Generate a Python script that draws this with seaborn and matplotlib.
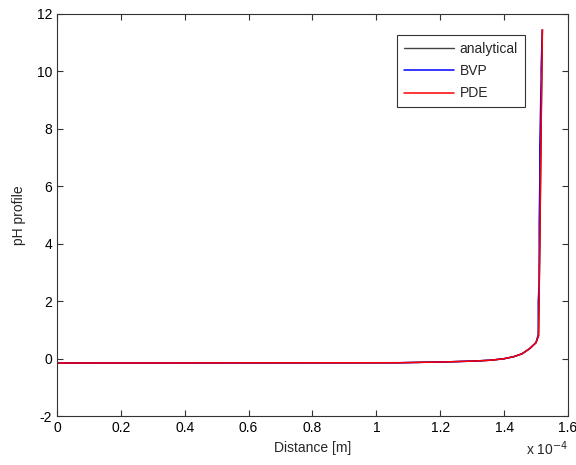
import numpy as np
import pandas as pd
import seaborn as sns
import matplotlib
matplotlib.use("Agg")
import matplotlib.pyplot as plt

# distance in units of 1e-4 m, pH values
analytical_x = [0, 1.07, 1.22, 1.31, 1.36, 1.40, 1.43, 1.456, 1.48, 1.50, 1.508, 1.512, 1.516, 1.520]
analytical_ph = [-0.15, -0.14, -0.11, -0.08, -0.05, 0.0, 0.07, 0.17, 0.35, 0.56, 0.80, 4.0, 8.0, 11.45]

bvp_x = [0, 1.07, 1.22, 1.31, 1.36, 1.40, 1.43, 1.456, 1.48, 1.50, 1.507, 1.507, 1.510, 1.510, 1.512, 1.512, 1.516, 1.516, 1.520]
bvp_ph = [-0.15, -0.14, -0.11, -0.08, -0.05, 0.0, 0.07, 0.17, 0.35, 0.56, 0.84, 2.0, 2.6, 4.7, 6.2, 7.4, 9.7, 10.1, 11.45]

pde_x = [0, 1.07, 1.22, 1.31, 1.36, 1.40, 1.43, 1.456, 1.48, 1.50, 1.508, 1.512, 1.516, 1.520]
pde_ph = [-0.15, -0.14, -0.11, -0.08, -0.05, 0.0, 0.07, 0.17, 0.35, 0.56, 0.80, 4.0, 8.0, 11.45]

x_ticks = [0, 0.2, 0.4, 0.6, 0.8, 1, 1.2, 1.4, 1.6]
x_labels = ["0", "0.2", "0.4", "0.6", "0.8", "1", "1.2", "1.4", "1.6"]
y_ticks = [-2, 0, 2, 4, 6, 8, 10, 12]

sns.set_style("ticks", {"xtick.direction": "in", "ytick.direction": "in"})
plt.rcParams['font.family'] = ['Liberation Sans', 'DejaVu Sans']
plt.rcParams['axes.unicode_minus'] = False

fig = plt.figure(figsize=(5.76, 4.65), dpi=100)
ax = fig.add_axes([0.099, 0.105, 0.887, 0.865])

sns.lineplot(x=analytical_x, y=analytical_ph, ax=ax, color="black", lw=1,
             sort=False, estimator=None, label="analytical")
sns.lineplot(x=bvp_x, y=bvp_ph, ax=ax, color="blue", lw=1.1,
             sort=False, estimator=None, label="BVP")
sns.lineplot(x=pde_x, y=pde_ph, ax=ax, color="red", lw=1.1,
             sort=False, estimator=None, label="PDE")

ax.set_xlim(0, 1.6)
ax.set_ylim(-2, 12)
ax.set_xticks(x_ticks)
ax.set_xticklabels(x_labels)
ax.set_yticks(y_ticks)
ax.tick_params(axis="both", labelsize=10, length=4, width=0.8, colors="#333333",
               top=True, right=True, labelcolor="black")
for s in ax.spines.values():
    s.set_color("#333333")
    s.set_linewidth(0.8)

ax.set_xlabel("Distance [m]", fontsize=10, labelpad=4)
ax.set_ylabel("pH profile", fontsize=10, labelpad=8)
ax.text(1.0, -0.058, r"x 10$^{-4}$", transform=ax.transAxes, ha="right", va="top", fontsize=10)

leg = ax.legend(loc="upper right", bbox_to_anchor=(0.916, 0.948), fontsize=10,
                fancybox=False, framealpha=1, edgecolor="#333333",
                handlelength=3.6, borderpad=0.5, labelspacing=0.6,
                handletextpad=0.4, borderaxespad=0)
leg.get_frame().set_linewidth(0.8)
leg.get_lines()[0].set_color("#444444")

fig.savefig("out.png", dpi=100)
